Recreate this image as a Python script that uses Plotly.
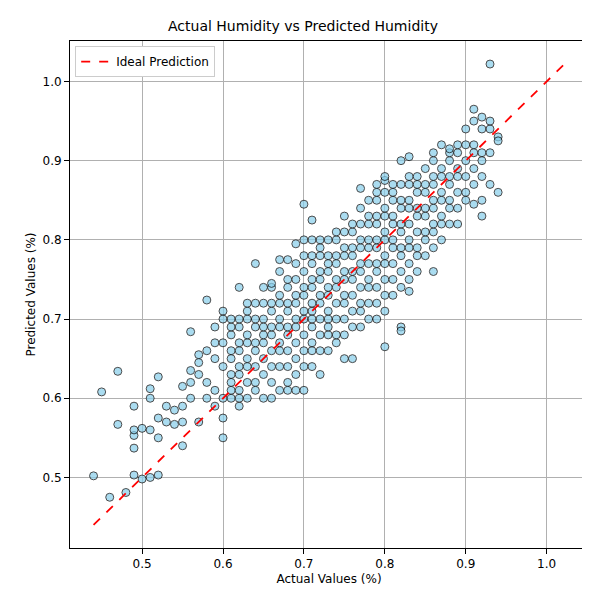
import plotly.graph_objects as go

# actual value columns and the predicted values seen in each column
actual_cols = [0.44, 0.45, 0.46, 0.47, 0.48, 0.49, 0.50, 0.51, 0.52, 0.53, 0.54, 0.55, 0.56, 0.57, 0.58, 0.59, 0.60,
               0.61, 0.62, 0.63, 0.64, 0.65, 0.66, 0.67, 0.68, 0.69, 0.70, 0.71, 0.72, 0.73, 0.74, 0.75, 0.76,
               0.77, 0.78, 0.79, 0.80, 0.81, 0.82, 0.83, 0.84, 0.85, 0.86, 0.87, 0.88, 0.89, 0.90, 0.91, 0.92,
               0.93, 0.94]
predicted_by_col = [
    [0.502], [0.608], [0.475], [0.634, 0.567], [0.481],
    [0.59, 0.503, 0.537, 0.553, 0.56], [0.562, 0.498], [0.60, 0.612, 0.56, 0.50],
    [0.503, 0.627, 0.575, 0.55], [0.59, 0.57], [0.585, 0.567], [0.615, 0.59, 0.54, 0.57],
    [0.684, 0.62, 0.60, 0.635], [0.655, 0.63, 0.57, 0.645], [0.62, 0.60, 0.724, 0.66],
    [0.69, 0.65, 0.61, 0.59, 0.67], [0.71, 0.67, 0.64, 0.60, 0.55, 0.575, 0.70],
    [0.61, 0.63, 0.65, 0.66, 0.68, 0.69, 0.70, 0.62, 0.60],
    [0.59, 0.61, 0.63, 0.64, 0.66, 0.67, 0.69, 0.70, 0.74, 0.60],
    [0.60, 0.62, 0.64, 0.65, 0.67, 0.68, 0.70, 0.71, 0.72],
    [0.62, 0.64, 0.66, 0.67, 0.69, 0.70, 0.72, 0.77, 0.61],
    [0.60, 0.63, 0.65, 0.67, 0.68, 0.70, 0.72, 0.74, 0.69],
    [0.60, 0.62, 0.64, 0.66, 0.68, 0.69, 0.71, 0.72, 0.74, 0.745],
    [0.61, 0.64, 0.66, 0.67, 0.69, 0.70, 0.72, 0.73, 0.76, 0.775],
    [0.62, 0.64, 0.66, 0.68, 0.69, 0.71, 0.72, 0.74, 0.75, 0.775, 0.61],
    [0.61, 0.63, 0.65, 0.67, 0.69, 0.70, 0.72, 0.73, 0.75, 0.77, 0.795],
    [0.61, 0.64, 0.66, 0.68, 0.70, 0.71, 0.73, 0.74, 0.76, 0.78, 0.80, 0.845],
    [0.64, 0.66, 0.67, 0.69, 0.71, 0.72, 0.74, 0.75, 0.77, 0.78, 0.80, 0.825, 0.70],
    [0.63, 0.66, 0.68, 0.70, 0.72, 0.73, 0.75, 0.76, 0.78, 0.79, 0.80],
    [0.66, 0.68, 0.70, 0.71, 0.73, 0.74, 0.76, 0.77, 0.78, 0.80, 0.69],
    [0.67, 0.68, 0.70, 0.72, 0.74, 0.75, 0.77, 0.78, 0.80, 0.81],
    [0.65, 0.68, 0.70, 0.72, 0.73, 0.75, 0.76, 0.78, 0.79, 0.81, 0.83],
    [0.65, 0.69, 0.71, 0.73, 0.75, 0.76, 0.78, 0.79, 0.81, 0.82],
    [0.69, 0.71, 0.72, 0.74, 0.76, 0.77, 0.79, 0.80, 0.82, 0.84, 0.865],
    [0.70, 0.72, 0.74, 0.75, 0.77, 0.79, 0.80, 0.82, 0.83, 0.85],
    [0.70, 0.72, 0.74, 0.76, 0.77, 0.79, 0.80, 0.82, 0.83, 0.85, 0.86, 0.87],
    [0.665, 0.71, 0.73, 0.75, 0.77, 0.78, 0.80, 0.81, 0.83, 0.84, 0.86, 0.875, 0.88],
    [0.73, 0.75, 0.77, 0.79, 0.80, 0.82, 0.83, 0.85, 0.86, 0.87],
    [0.69, 0.685, 0.74, 0.76, 0.78, 0.79, 0.81, 0.82, 0.84, 0.85, 0.87, 0.90],
    [0.735, 0.75, 0.77, 0.79, 0.80, 0.82, 0.84, 0.85, 0.87, 0.88, 0.905],
    [0.76, 0.78, 0.79, 0.81, 0.83, 0.84, 0.86, 0.87, 0.88],
    [0.78, 0.80, 0.81, 0.83, 0.84, 0.86, 0.87, 0.89],
    [0.76, 0.79, 0.81, 0.82, 0.84, 0.85, 0.87, 0.88, 0.90, 0.91],
    [0.80, 0.82, 0.83, 0.85, 0.86, 0.88, 0.89, 0.92],
    [0.82, 0.84, 0.85, 0.87, 0.88, 0.90, 0.91, 0.915],
    [0.82, 0.84, 0.86, 0.88, 0.89, 0.91, 0.92],
    [0.86, 0.88, 0.90, 0.92, 0.94, 0.85],
    [0.845, 0.87, 0.89, 0.92, 0.95, 0.965, 0.91],
    [0.83, 0.85, 0.88, 0.90, 0.91, 0.94, 0.955],
    [0.87, 0.91, 0.94, 0.95, 1.022],
    [0.86, 0.93, 0.925],
]

actual = []
predicted = []
for x, ys in zip(actual_cols, predicted_by_col):
    for y in ys:
        actual.append(x)
        predicted.append(y)

lo = min(min(actual), min(predicted))
hi = max(max(actual), max(predicted))
pad = (hi - lo) * 0.05

fig = go.Figure()
fig.add_trace(go.Scatter(
    x=actual, y=predicted, mode="markers", showlegend=False,
    marker=dict(size=8, color="skyblue", opacity=0.7,
                line=dict(color="black", width=1))))
fig.add_trace(go.Scatter(
    x=[lo, hi], y=[lo, hi], mode="lines", name="Ideal Prediction",
    line=dict(color="red", dash="dash", width=1.8)))

axis = dict(range=[lo - pad, hi + pad], showgrid=True, gridcolor="#b0b0b0",
            zeroline=False, showline=True, linecolor="black", mirror=True,
            ticks="outside", tickcolor="black", tickformat=".1f", dtick=0.1,
            automargin=False, tickfont=dict(size=12))
fig.update_layout(
    width=590, height=590, plot_bgcolor="white", paper_bgcolor="white",
    font=dict(family="DejaVu Sans", size=12, color="black"),
    title=dict(text="Actual Humidity vs Predicted Humidity", x=0.5, xanchor="center",
               y=0.977, font=dict(size=14)),
    margin=dict(l=62, r=10, t=33, b=50, autoexpand=False),
    legend=dict(x=0.01, y=0.99, xanchor="left", yanchor="top", font=dict(size=12),
                bordercolor="#cccccc", borderwidth=1, bgcolor="white",
                tracegroupgap=0, itemwidth=30),
    xaxis=dict(axis, title=dict(text="Actual Values (%)", standoff=4, font=dict(size=12))),
    yaxis=dict(axis, title=dict(text="Predicted Values (%)", standoff=4, font=dict(size=12))),
)
fig.write_html("out.html")
